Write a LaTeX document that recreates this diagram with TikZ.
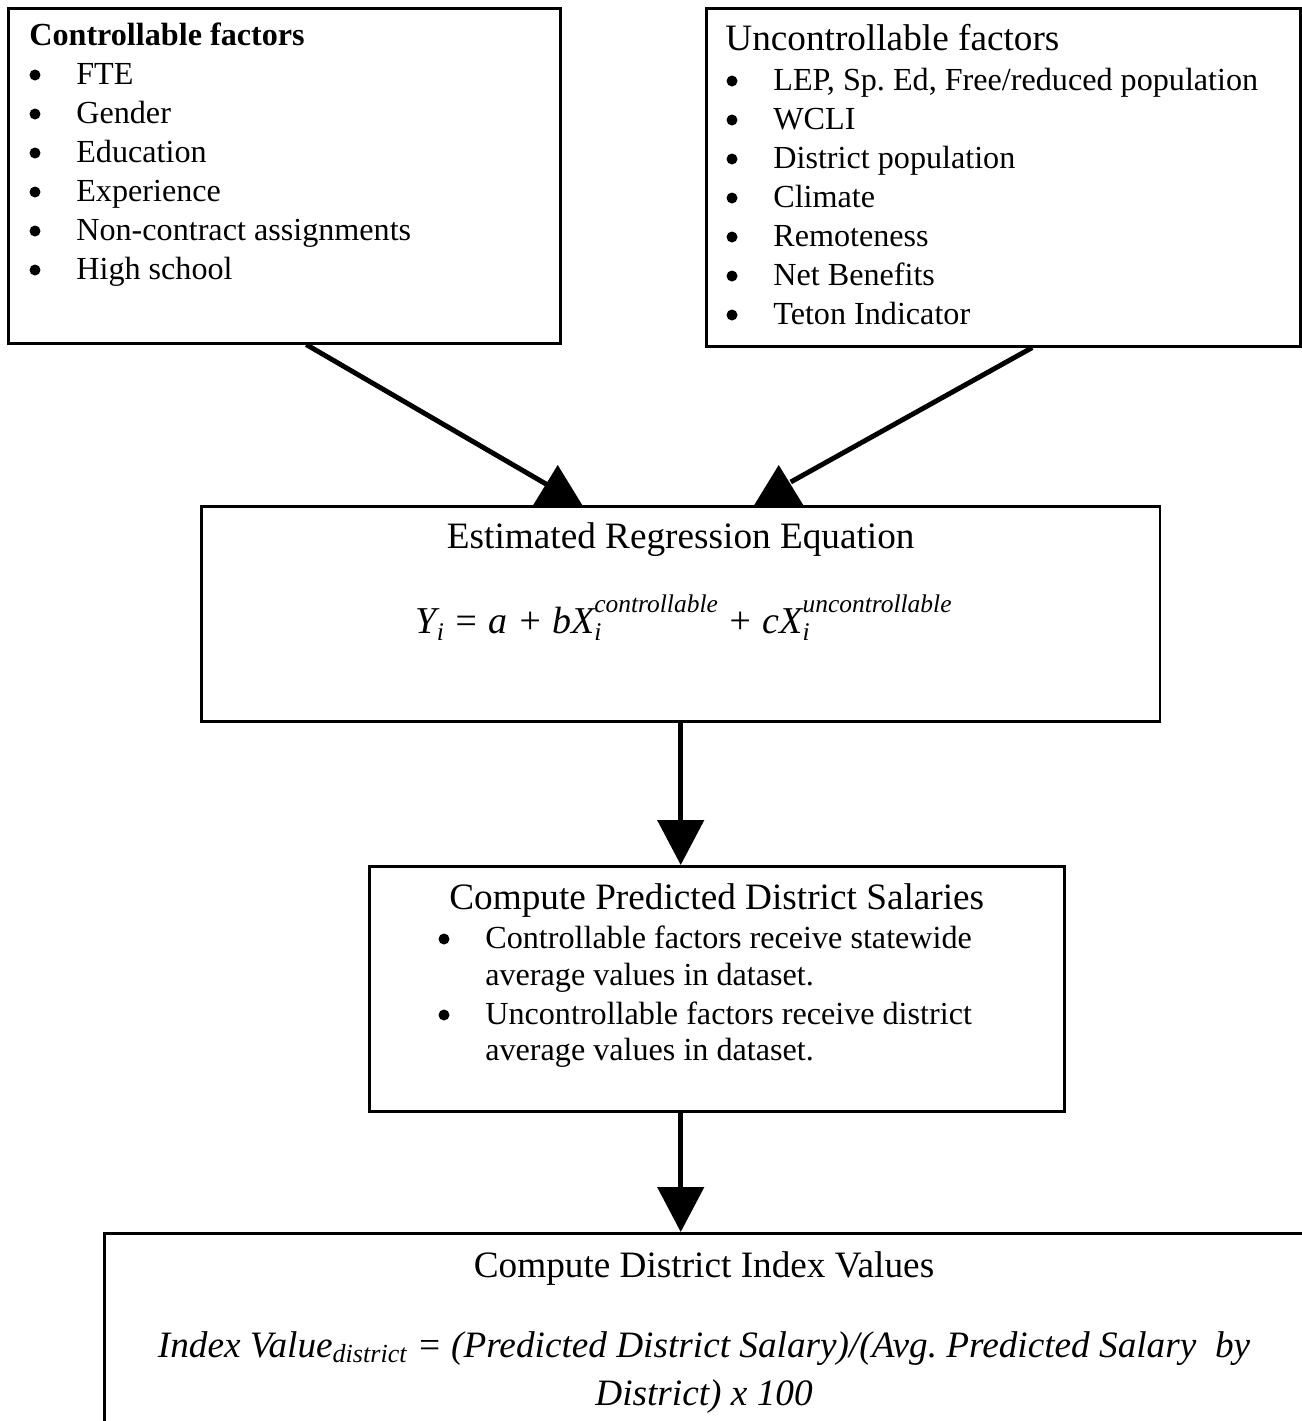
\documentclass[tikz,border=0pt]{standalone}
\usepackage{fontspec}
\setmainfont{Liberation Serif}
\usetikzlibrary{arrows.meta,positioning,calc}
\frenchspacing
\newcommand{\lowsub}[1]{\raisebox{-0.2em}{\fontsize{14.5}{16}\selectfont #1}}
\newcommand{\subsup}[2]{\rlap{\lowsub{#1}}\raisebox{0.55em}{\fontsize{14.5}{16}\selectfont #2}}
\def\uphead(#1){\fill (#1) ++(-24.5,0) -- ++(49,0) -- ++(-24.5,-40) -- cycle;}
\def\dotat(#1){\fill ($(#1.base west)+(-41,-9)$) circle[radius=0.11cm];}

\begin{document}
\begin{tikzpicture}[x=0.02cm, y=-0.02cm,
    box/.style={draw, line width=1.5pt, inner sep=0pt, anchor=north west},
    head/.style={font=\fontsize{21.2}{25}\selectfont, inner sep=0pt, anchor=base},
    item/.style={font=\fontsize{18.3}{22}\selectfont, inner sep=0pt, anchor=base west},
    link/.style={line width=2.8pt},
    down/.style={link, -{Triangle[width=0.92cm, length=0.9cm]}}]
		%%%%% BOXES %%%%%
		\useasboundingbox (0,0) rectangle (1302,1421);
		
		\node[box, minimum width=11.04cm, minimum height=6.7cm] (ctrl) at (7,7) {};
		\node[box, minimum width=11.88cm, minimum height=6.76cm] (unctrl) at (705,7) {};
		\node[box, minimum width=19.18cm, minimum height=4.3cm] (regress) at (200,505) {};
		\node[box, minimum width=13.9cm, minimum height=4.9cm] (predict) at (368,865) {};
		\node[box, minimum width=24.8cm, minimum height=5.2cm] (index) at (103,1232) {};
		
		%%%%% TEXT %%%%%
		\node[item] (ctrlhead) at ($(ctrl.north west)+(22,38)$) {\textbf{Controllable factors}};
		\foreach \t [count=\i] in {FTE, Gender, Education, Experience, Non-contract assignments, High school}{
			\node[item] (c\i) at ($(ctrl.north west)+(69,38+39*\i)$) {\t};
			\dotat(c\i)
		}
		
		\node[head, anchor=base west] (unctrlhead) at ($(unctrl.north west)+(20,43)$) {Uncontrollable factors};
		\foreach \t [count=\i] in {{LEP, Sp. Ed, Free/reduced population}, WCLI, District population, Climate, Remoteness, Net Benefits, Teton Indicator}{
			\node[item] (u\i) at ($(unctrl.north west)+(68,44+39*\i)$) {\t};
			\dotat(u\i)
		}
		
		\node[head] (reghead) at ($(regress.north)+(0,43)$) {Estimated Regression Equation};
		\node[head, font=\fontsize{21.6}{26}\selectfont\itshape] (regeq) at ($(regress.north)+(3,128)$)
			{Y\lowsub{i} = a + bX\subsup{i}{controllable} + cX\subsup{i}{uncontrollable}};
		
		\node[head] (predhead) at ($(predict.north)+(0,44)$) {Compute Predicted District Salaries};
		\node[item] (p1) at ($(predict.north west)+(117,83)$) {Controllable factors receive statewide};
		\node[item] (p2) at ($(predict.north west)+(117,120)$) {average values in dataset.};
		\node[item] (p3) at ($(predict.north west)+(117,159)$) {Uncontrollable factors receive district};
		\node[item] (p4) at ($(predict.north west)+(117,195)$) {average values in dataset.};
		\dotat(p1)
		\dotat(p3)
		
		\node[head] (idxhead) at ($(index.north west)+(601,45)$) {Compute District Index Values};
		\node[head, font=\fontsize{21.2}{25}\selectfont\itshape] (idx1) at ($(index.north west)+(601,125)$)
			{Index Value\textsubscript{district} = (Predicted District Salary)/(Avg. Predicted Salary\ \ by};
		\node[head, font=\fontsize{21.2}{25}\selectfont\itshape] (idx2) at ($(index.north west)+(601,173)$) {District) x 100};
		
		%%%%% ARROWS %%%%%
		\coordinate (inA) at ($(regress.north)+(-123,0)$);
		\coordinate (inB) at ($(regress.north)+(98,0)$);
		\draw[link] ($(ctrl.south)+(22,0)$) -- ($(inA)+(-10,-20)$);
		\draw[link] ($(unctrl.south)+(29,0)$) -- ($(inB)+(12,-23)$);
		\uphead(inA)
		\uphead(inB)
		
		\draw[down] (regress.south) -- (regress.south |- predict.north);
		\draw[down] (regress.south |- predict.south) -- (regress.south |- index.north);
		
	\end{tikzpicture}
\end{document}
